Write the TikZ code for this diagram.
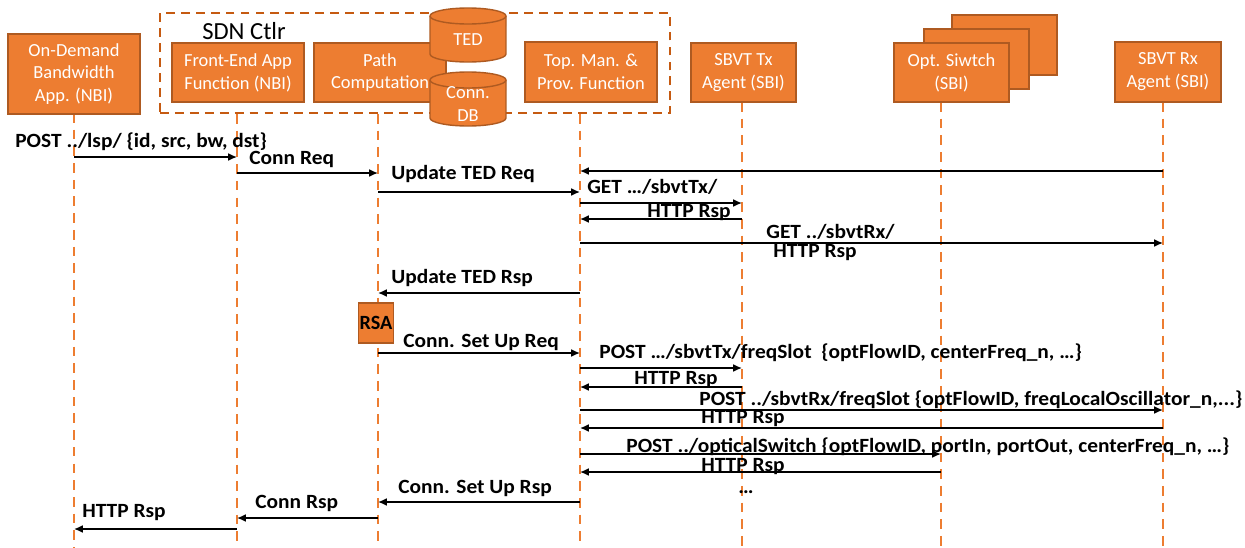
\documentclass[tikz,border=0pt]{standalone}
\usepackage{fontspec}
\setmainfont{Carlito}
\newfontfamily\lblfont{Carlito}[FakeStretch=1.06]
\usetikzlibrary{positioning,arrows.meta,shapes.geometric}
\definecolor{boxfill}{RGB}{237,125,49}
\definecolor{boxline}{RGB}{174,90,33}
\definecolor{ctlrline}{RGB}{197,90,17}

\begin{document}
\begin{tikzpicture}[x=0.02cm, y=-0.02cm,
        entity/.style={draw=boxline, fill=boxfill, line width=0.8pt, text=white, align=center, inner sep=1pt, font=\fontsize{10.5}{13}\selectfont, minimum width=2.64cm, minimum height=1.18cm},
        dbshape/.style={draw=boxline, fill=boxfill, line width=0.8pt},
        dbtext/.style={text=white, align=center, inner sep=0pt, font=\fontsize{10.5}{13}\selectfont},
        lifeline/.style={draw=boxfill, line width=1.1pt, dash pattern=on 5.5pt off 4pt},
        msg/.style={-{Latex[length=5pt,width=4.5pt]}, line width=0.9pt},
        lbl/.style={anchor=west, inner sep=0pt, font=\lblfont\bfseries\fontsize{11.5}{13}\selectfont}
    ]
        \useasboundingbox (0,0) rectangle (1245,548);

        % lifeline positions
        \foreach \n/\x in {od/74, fe/237, pc/378, tm/580, tx/742, sw/941, rx/1163}
            \coordinate (\n-l) at (\x,548);

        % SDN controller frame
        \node[draw=ctlrline, line width=1.2pt, dash pattern=on 5pt off 3.5pt, minimum width=10.2cm, minimum height=2cm] (ctlr) at (415,63) {};
        \node[font=\fontsize{14}{16}\selectfont] (ctlrname) at (244,31) {SDN Ctlr};

        % lifelines
        \draw[lifeline] (od-l |- 0,113) -- (od-l);
        \draw[lifeline] (fe-l |- ctlr.south) -- (fe-l);
        \draw[lifeline] (pc-l |- ctlr.south) -- (pc-l);
        \draw[lifeline] (tm-l |- ctlr.south) -- (tm-l);
        \draw[lifeline] (tx-l |- 0,102) -- (tx-l);
        \draw[lifeline] (sw-l |- 0,102) -- (sw-l);
        \draw[lifeline] (rx-l |- 0,102) -- (rx-l);

        % actors
        \node[entity, minimum height=1.6cm] (od) at (74,74) {On-Demand\\Bandwidth\\App. (NBI)};
        \node[entity] (fe) at (238,72.5) {Front-End App\\Function (NBI)};
        \node[entity] (pc) at (380,72.5) {Path\\Computation};

        % databases
        \foreach \top/\bot in {16/54, 80/118} {
            \filldraw[dbshape] (430,\top) -- (430,\bot) arc[start angle=180, end angle=360, x radius=0.76cm, y radius=0.16cm]
                -- (506,\top) arc[start angle=0, end angle=180, x radius=0.76cm, y radius=0.16cm] -- cycle;
            \draw[dbshape, fill=none] (430,\top) arc[start angle=180, end angle=360, x radius=0.76cm, y radius=0.16cm];
        }
        \node[dbtext] (ted) at (468,40) {TED};
        \node[dbtext] (conndb) at (468,104) {Conn.\\DB};

        \node[entity, minimum height=1.2cm] (tm) at (591,72) {Top. Man. \&\\Prov. Function};
        \node[entity, minimum width=2.1cm] (tx) at (743.5,72.5) {SBVT Tx\\Agent (SBI)};
        \node[entity, minimum width=2.1cm, minimum height=1.2cm] (sw3) at (1004.5,45) {};
        \node[entity, minimum width=2.1cm, minimum height=1.2cm] (sw2) at (976.5,59) {};
        \node[entity, minimum width=2.3cm] (sw) at (951.5,72.5) {Opt. Siwtch\\(SBI)};
        \node[entity, minimum width=2.12cm, minimum height=1.2cm] (rx) at (1168,72) {SBVT Rx\\Agent (SBI)};
        \node[draw=boxline, fill=boxfill, line width=0.8pt, minimum width=0.7cm, minimum height=0.8cm, inner sep=0pt, font=\bfseries\fontsize{11.5}{13}\selectfont] (rsa) at (376,323) {RSA};

        % messages
        \draw[msg] (od-l |- 0,157) -- (fe-l |- 0,157);
        \draw[msg] (fe-l |- 0,173) -- (pc-l |- 0,173);
        \draw[msg] (rx-l |- 0,171) -- (tm-l |- 0,171);
        \draw[msg] (pc-l |- 0,192) -- (tm-l |- 0,192);
        \draw[msg] (tm-l |- 0,203) -- (tx-l |- 0,203);
        \draw[msg] (tx-l |- 0,219) -- (tm-l |- 0,219);
        \draw[msg] (tm-l |- 0,243) -- (rx-l |- 0,243);
        \draw[msg] (tm-l |- 0,293) -- (pc-l |- 0,293);
        \draw[msg] (pc-l |- 0,353) -- (tm-l |- 0,353);
        \draw[msg] (tm-l |- 0,368) -- (tx-l |- 0,368);
        \draw[msg] (tx-l |- 0,387) -- (tm-l |- 0,387);
        \draw[msg] (tm-l |- 0,410) -- (rx-l |- 0,410);
        \draw[msg] (rx-l |- 0,428) -- (tm-l |- 0,428);
        \draw[msg] (tm-l |- 0,454) -- (sw-l |- 0,454);
        \draw[msg] (sw-l |- 0,472) -- (tm-l |- 0,472);
        \draw[msg] (tm-l |- 0,502) -- (pc-l |- 0,502);
        \draw[msg] (pc-l |- 0,518) -- (fe-l |- 0,518);
        \draw[msg] (fe-l |- 0,529) -- (od-l |- 0,529);

        % message labels
        \node[lbl] (l1) at (15,142) {POST ../lsp/ \{id, src, bw, dst\}};
        \node[lbl] (l2) at (249,159) {Conn Req};
        \node[lbl] (l3) at (391,174) {Update TED Req};
        \node[lbl] (l4) at (587,187) {GET …/sbvtTx/};
        \node[lbl] (l5) at (647,213) {HTTP Rsp};
        \node[lbl] (l6) at (766,232) {GET ../sbvtRx/};
        \node[lbl] (l7) at (773,253) {HTTP Rsp};
        \node[lbl] (l8) at (391,278) {Update TED Rsp};
        \node[lbl] (l9) at (403,342) {Conn. Set Up Req};
        \node[lbl] (l10) at (599,353) {POST …/sbvtTx/freqSlot \ \{optFlowID, centerFreq\_n, …\}};
        \node[lbl] (l11) at (634,380) {HTTP Rsp};
        \node[lbl] (l12) at (699,400) {POST ../sbvtRx/freqSlot \{optFlowID, freqLocalOscillator\_n,...\}};
        \node[lbl] (l13) at (701,419) {HTTP Rsp};
        \node[lbl] (l14) at (626,447) {POST ../opticalSwitch \{optFlowID, portIn, portOut, centerFreq\_n, …\}};
        \node[lbl] (l15) at (701,467) {HTTP Rsp};
        \node[lbl, anchor=center] (dots) at (746,492) {…};
        \node[lbl] (l16) at (398,488) {Conn. Set Up Rsp};
        \node[lbl] (l17) at (255,503) {Conn Rsp};
        \node[lbl] (l18) at (82,513) {HTTP Rsp};
    \end{tikzpicture}
\end{document}
